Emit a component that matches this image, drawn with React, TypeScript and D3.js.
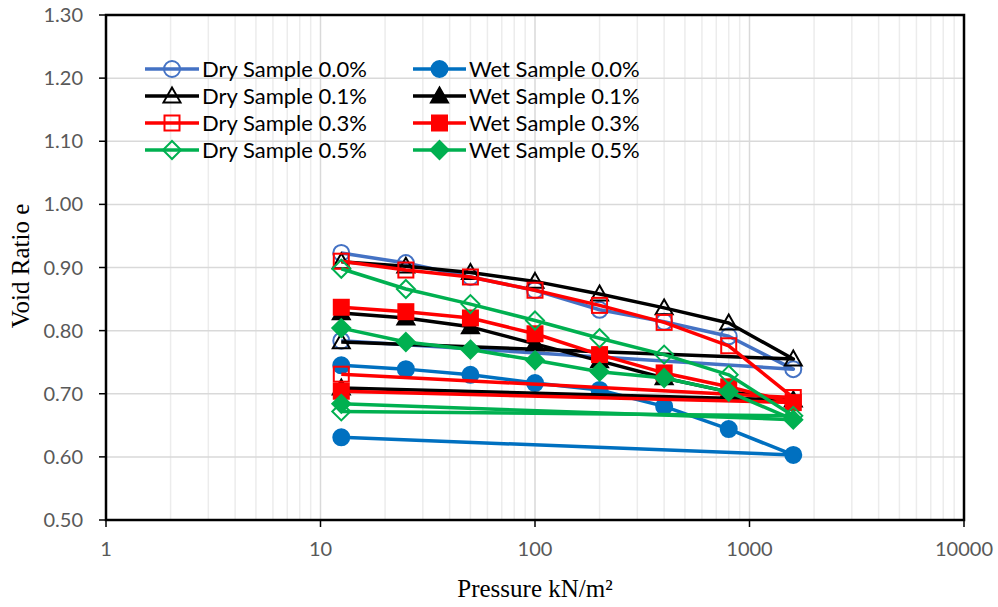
import React from "react";
import * as d3 from "d3";

const pressures = [12.5, 25, 50, 100, 200, 400, 800, 1600, 12.5];

const dry00 = [0.923, 0.907, 0.885, 0.864, 0.833, 0.814, 0.791, 0.739, 0.784];
const wet00 = [0.745, 0.739, 0.730, 0.717, 0.706, 0.680, 0.644, 0.603, 0.631];
const dry01 = [0.909, 0.902, 0.892, 0.878, 0.858, 0.836, 0.812, 0.755, 0.782];
const wet01 = [0.828, 0.820, 0.806, 0.779, 0.752, 0.725, 0.703, 0.690, 0.709];
const dry03 = [0.910, 0.896, 0.885, 0.864, 0.840, 0.813, 0.776, 0.694, 0.731];
const wet03 = [0.837, 0.830, 0.820, 0.795, 0.762, 0.733, 0.711, 0.686, 0.704];
const dry05 = [0.898, 0.866, 0.842, 0.816, 0.788, 0.762, 0.730, 0.665, 0.672];
const wet05 = [0.804, 0.782, 0.770, 0.753, 0.735, 0.725, 0.703, 0.659, 0.684];

const seriesNames = [
  "Dry Sample 0.0%", "Wet Sample 0.0%",
  "Dry Sample 0.1%", "Wet Sample 0.1%",
  "Dry Sample 0.3%", "Wet Sample 0.3%",
  "Dry Sample 0.5%", "Wet Sample 0.5%",
];
const seriesValues = [dry00, wet00, dry01, wet01, dry03, wet03, dry05, wet05];
const seriesColors = ["#4472C4", "#0070C0", "#000000", "#000000", "#FF0000", "#FF0000", "#00B050", "#00B050"];
const seriesShapes = ["circle", "circle", "triangle", "triangle", "square", "square", "diamond", "diamond"];
const seriesFilled = [false, true, false, true, false, true, false, true];

const yTicks = [0.5, 0.6, 0.7, 0.8, 0.9, 1.0, 1.1, 1.2, 1.3];
const xTicks = [1, 10, 100, 1000, 10000];

const W = 998, H = 607;
const L = 106, R = 964, T = 15, B = 520;

function Marker({ shape, cx, cy, color, filled }: any) {
  const fill = filled ? color : "none";
  const sw = 2;
  if (shape === "circle") {
    return <circle cx={cx} cy={cy} r={8} fill={fill} stroke={color} strokeWidth={sw} />;
  }
  if (shape === "square") {
    const s = 15;
    return <rect x={cx - s / 2} y={cy - s / 2} width={s} height={s} fill={fill} stroke={color} strokeWidth={sw} />;
  }
  if (shape === "triangle") {
    const s = 8.5;
    const d = `M${cx},${cy - s} L${cx + s},${cy + s * 0.75} L${cx - s},${cy + s * 0.75} Z`;
    return <path d={d} fill={fill} stroke={color} strokeWidth={sw} />;
  }
  const s = 9;
  const d = `M${cx},${cy - s} L${cx + s},${cy} L${cx},${cy + s} L${cx - s},${cy} Z`;
  return <path d={d} fill={fill} stroke={color} strokeWidth={sw} />;
}

export default function App() {
  const x = d3.scaleLog().domain([1, 10000]).range([L, R]);
  const y = d3.scaleLinear().domain([0.5, 1.3]).range([B, T]);

  const minor: number[] = [];
  for (let k = 0; k < 4; k++) {
    for (let m = 2; m <= 9; m++) minor.push(m * Math.pow(10, k));
  }

  const line = d3.line<[number, number]>().x((d) => x(d[0])).y((d) => y(d[1]));

  const tickFont = "Lato, 'Open Sans', sans-serif";
  const legendRows = [0, 1, 2, 3];
  const legendY = (r: number) => 69 + r * 27;
  const legendCols = [{ x1: 145, x2: 199, tx: 202 }, { x1: 413, x2: 466, tx: 469 }];

  return (
    <svg width={W} height={H} style={{ position: "absolute", left: 0, top: 0, background: "#fff" }}>
      <rect x={0} y={0} width={W} height={H} fill="#fff" />
      {minor.map((v) => (
        <line key={"mn" + v} x1={x(v)} x2={x(v)} y1={T} y2={B} stroke="#ececec" strokeWidth={1.5} />
      ))}
      {xTicks.map((v) => (
        <line key={"mj" + v} x1={x(v)} x2={x(v)} y1={T} y2={B} stroke="#d9d9d9" strokeWidth={1.5} />
      ))}
      {yTicks.map((v) => (
        <line key={"hy" + v} x1={L} x2={R} y1={y(v)} y2={y(v)} stroke="#d9d9d9" strokeWidth={1.5} />
      ))}

      {seriesValues.map((vals, i) => {
        const pts: [number, number][] = vals.map((v, j) => [pressures[j], v]);
        return (
          <g key={"s" + i}>
            <path d={line(pts) || ""} fill="none" stroke={seriesColors[i]} strokeWidth={3.5} strokeLinejoin="round" />
            {pts.map((p, j) => (
              <Marker key={j} shape={seriesShapes[i]} cx={x(p[0])} cy={y(p[1])} color={seriesColors[i]} filled={seriesFilled[i]} />
            ))}
          </g>
        );
      })}

      <rect x={L} y={T} width={R - L} height={B - T} fill="none" stroke="#000" strokeWidth={2.5} />
      {yTicks.map((v) => (
        <g key={"yt" + v}>
          <line x1={L - 7} x2={L} y1={y(v)} y2={y(v)} stroke="#000" strokeWidth={1.5} />
          <text x={83} y={y(v)} dy="0.35em" textAnchor="end" fontFamily={tickFont} fontSize={20} fill="#595959">
            {d3.format(".2f")(v)}
          </text>
        </g>
      ))}
      {xTicks.map((v) => (
        <g key={"xt" + v}>
          <line x1={x(v)} x2={x(v)} y1={B} y2={B + 7} stroke="#000" strokeWidth={1.5} />
          <text x={x(v)} y={549} dy="0.35em" textAnchor="middle" fontFamily={tickFont} fontSize={20} fill="#595959">
            {String(v)}
          </text>
        </g>
      ))}

      <text x={535} y={588} dy="0.35em" textAnchor="middle" fontFamily="'Liberation Serif', 'Times New Roman', serif" fontSize={25} fill="#000">
        Pressure kN/m²
      </text>
      <text transform={`translate(20,266) rotate(-90)`} dy="0.35em" textAnchor="middle" fontFamily="'Liberation Serif', 'Times New Roman', serif" fontSize={25} fill="#000">
        Void Ratio e
      </text>

      {legendRows.map((r) =>
        legendCols.map((c, ci) => {
          const i = r * 2 + ci;
          const ly = legendY(r);
          return (
            <g key={"lg" + i}>
              <line x1={c.x1} x2={c.x2} y1={ly} y2={ly} stroke={seriesColors[i]} strokeWidth={3.5} />
              <Marker shape={seriesShapes[i]} cx={(c.x1 + c.x2) / 2} cy={ly} color={seriesColors[i]} filled={seriesFilled[i]} />
              <text x={c.tx} y={ly} dy="0.35em" fontFamily={tickFont} fontSize={22} fill="#000">
                {seriesNames[i]}
              </text>
            </g>
          );
        })
      )}
    </svg>
  );
}
